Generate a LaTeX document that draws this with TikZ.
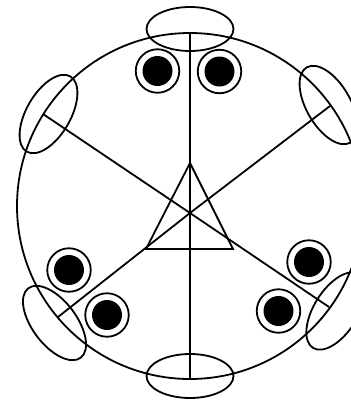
\documentclass[tikz,border=0pt]{standalone}
\usetikzlibrary{shapes.geometric}
\tikzset{
  lens/.style={ellipse,draw,minimum width=87pt,minimum height=44pt,inner sep=0pt,outer sep=0pt},
  ring/.style={circle,draw,minimum size=43.5pt,inner sep=0pt,outer sep=0pt},
  dot/.style={circle,fill=black,minimum size=30pt,inner sep=0pt,outer sep=0pt},
}
\begin{document}
\begin{tikzpicture}[x=1pt,y=-1pt,line width=1.8pt]
\useasboundingbox (0,0) rectangle (351,402);
\clip (0,0) rectangle (351,402);
\coordinate (hub) at (190,213);
\coordinate (endT) at (190,33);
\coordinate (endB) at (190,379);
\coordinate (endLU) at (43,114);
\coordinate (endRU) at (330,106);
\coordinate (endLD) at (58,317);
\coordinate (endRD) at (329,307);
\coordinate (triA) at (190,163);
\coordinate (triB) at (146,249);
\coordinate (triC) at (233,249);
\draw (190,206) circle [radius=173pt];
\draw (hub) -- (endT);
\draw (hub) -- (endB);
\draw (hub) -- (endLU);
\draw (hub) -- (endRU);
\draw (hub) -- (endLD);
\draw (hub) -- (endRD);
\draw (triA) -- (triB) -- (triC) -- cycle;
\node[lens] (lt) at (190,29) {};
\node[lens] (lb) at (190,376) {};
\node[lens,rotate=60] (llu) at (48.5,114) {};
\node[lens,rotate=-60] (lru) at (328.5,105) {};
\node[lens,rotate=-53] (lld) at (54.5,323) {};
\node[lens,rotate=58] (lrd) at (336,311) {};
\foreach \n/\x/\y in {a/157.5/71,b/219.5/71.5,c/69/270,d/107/315,e/309/262,f/278.5/311}{
  \node[ring] (r\n) at (\x,\y) {};
  \node[dot] (d\n) at (\x,\y) {};
}
\end{tikzpicture}
\end{document}
